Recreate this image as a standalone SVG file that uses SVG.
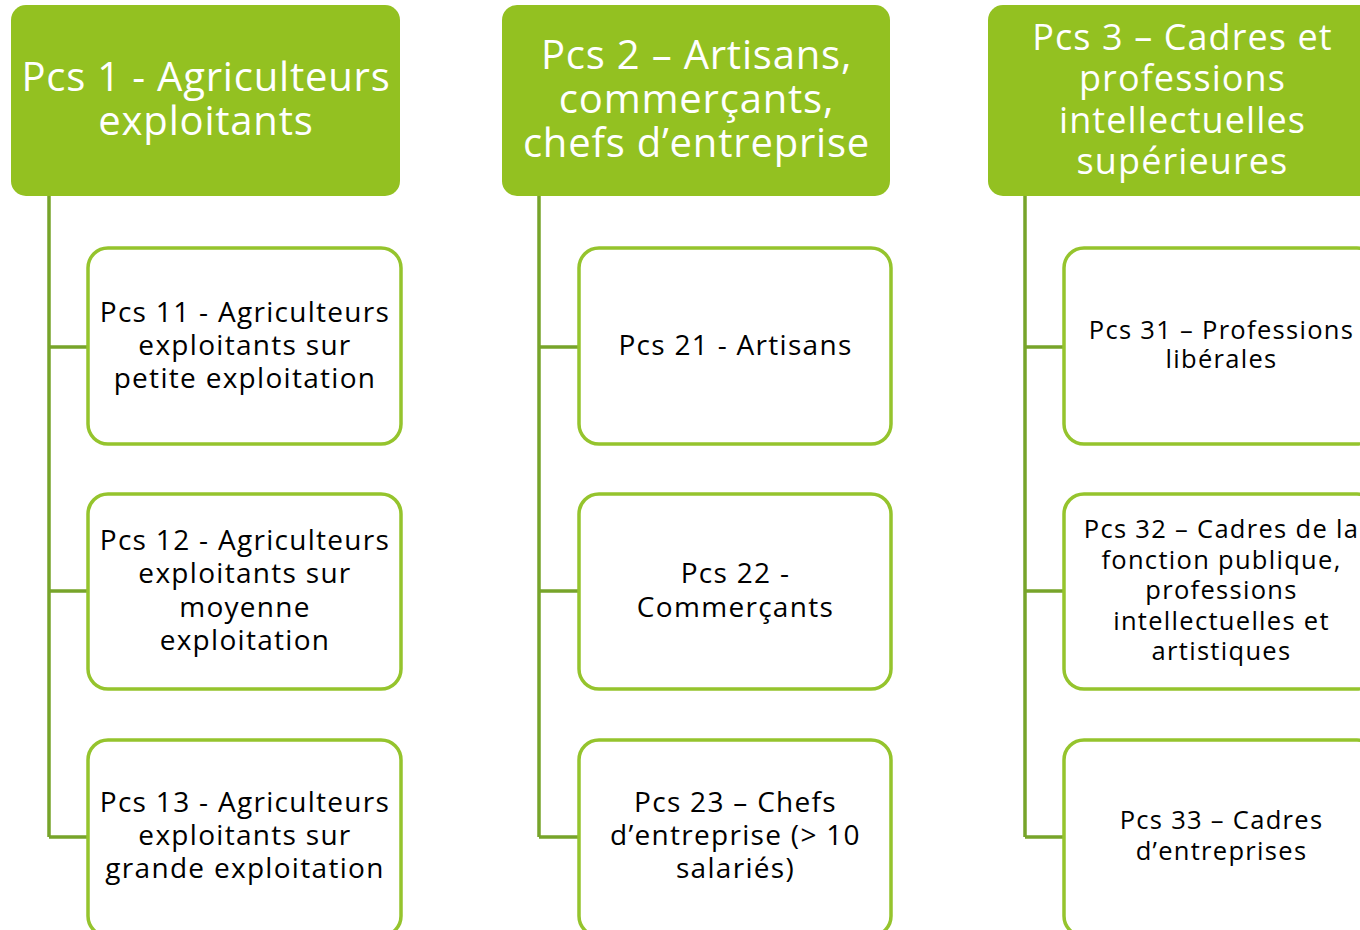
<svg xmlns="http://www.w3.org/2000/svg" width="1360" height="930" viewBox="0 0 1360 930">
<style>
.hdr{fill:#93C121}
.child{fill:#FFFFFF;stroke:#95C42D;stroke-width:3.5}
.conn{fill:none;stroke:#77A42A;stroke-width:3.5}
.ht{font-family:"Open Sans","DejaVu Sans",sans-serif;fill:#FFFFFF;text-anchor:middle}
.ct{font-family:"Open Sans","DejaVu Sans",sans-serif;fill:#000000;text-anchor:middle}
.h1{font-size:40px;letter-spacing:0.8px}
.h3{font-size:36px;letter-spacing:1.1px}
.c1{font-size:28px;letter-spacing:1.3px}
.c3{font-size:25.5px;letter-spacing:1.3px}
</style>
<rect width="1360" height="930" fill="#FFFFFF"/>
<g id="connectors">
<path class="conn" d="M49,196 V837 M49,347 H88 M49,591 H88 M49,837 H88"/>
<path class="conn" d="M539,196 V837 M539,347 H579 M539,591 H579 M539,837 H579"/>
<path class="conn" d="M1025,196 V837 M1025,347 H1064 M1025,591 H1064 M1025,837 H1064"/>
</g>
<g id="pcs1">
<rect class="hdr" x="11" y="5" width="389" height="191" rx="15"/>
<text class="ht h1"><tspan x="206" y="91">Pcs 1 - Agriculteurs</tspan><tspan x="206" y="135">exploitants</tspan></text>
</g>
<g id="pcs11">
<rect class="child" x="88" y="248" width="313" height="196" rx="20"/>
<text class="ct c1"><tspan x="245" y="322">Pcs 11 - Agriculteurs</tspan><tspan x="245" y="355">exploitants sur</tspan><tspan x="245" y="388">petite exploitation</tspan></text>
</g>
<g id="pcs12">
<rect class="child" x="88" y="494" width="313" height="195" rx="20"/>
<text class="ct c1"><tspan x="245" y="550">Pcs 12 - Agriculteurs</tspan><tspan x="245" y="583">exploitants sur</tspan><tspan x="245" y="617">moyenne</tspan><tspan x="245" y="650">exploitation</tspan></text>
</g>
<g id="pcs13">
<rect class="child" x="88" y="740" width="313" height="196" rx="20"/>
<text class="ct c1"><tspan x="245" y="812">Pcs 13 - Agriculteurs</tspan><tspan x="245" y="845">exploitants sur</tspan><tspan x="245" y="878">grande exploitation</tspan></text>
</g>
<g id="pcs2">
<rect class="hdr" x="502" y="5" width="388" height="191" rx="15"/>
<text class="ht h1"><tspan x="696.5" y="69">Pcs 2 – Artisans,</tspan><tspan x="696.5" y="113">commerçants,</tspan><tspan x="696.5" y="157">chefs d’entreprise</tspan></text>
</g>
<g id="pcs21">
<rect class="child" x="579" y="248" width="312" height="196" rx="20"/>
<text class="ct c1"><tspan x="735.5" y="355">Pcs 21 - Artisans</tspan></text>
</g>
<g id="pcs22">
<rect class="child" x="579" y="494" width="312" height="195" rx="20"/>
<text class="ct c1"><tspan x="735.5" y="583">Pcs 22 -</tspan><tspan x="735.5" y="617">Commerçants</tspan></text>
</g>
<g id="pcs23">
<rect class="child" x="579" y="740" width="312" height="196" rx="20"/>
<text class="ct c1"><tspan x="735.5" y="812">Pcs 23 – Chefs</tspan><tspan x="735.5" y="845">d’entreprise (&gt; 10</tspan><tspan x="735.5" y="878">salariés)</tspan></text>
</g>
<g id="pcs3">
<rect class="hdr" x="988" y="5" width="388" height="191" rx="15"/>
<text class="ht h3"><tspan x="1182.5" y="50">Pcs 3 – Cadres et</tspan><tspan x="1182.5" y="91">professions</tspan><tspan x="1182.5" y="133">intellectuelles</tspan><tspan x="1182.5" y="174">supérieures</tspan></text>
</g>
<g id="pcs31">
<rect class="child" x="1064" y="248" width="313" height="196" rx="20"/>
<text class="ct c3"><tspan x="1221.5" y="339">Pcs 31 – Professions</tspan><tspan x="1221.5" y="368">libérales</tspan></text>
</g>
<g id="pcs32">
<rect class="child" x="1064" y="494" width="313" height="195" rx="20"/>
<text class="ct c3"><tspan x="1221.5" y="538">Pcs 32 – Cadres de la</tspan><tspan x="1221.5" y="569">fonction publique,</tspan><tspan x="1221.5" y="599">professions</tspan><tspan x="1221.5" y="630">intellectuelles et</tspan><tspan x="1221.5" y="660">artistiques</tspan></text>
</g>
<g id="pcs33">
<rect class="child" x="1064" y="740" width="313" height="196" rx="20"/>
<text class="ct c3"><tspan x="1221.5" y="829">Pcs 33 – Cadres</tspan><tspan x="1221.5" y="860">d’entreprises</tspan></text>
</g>
</svg>
